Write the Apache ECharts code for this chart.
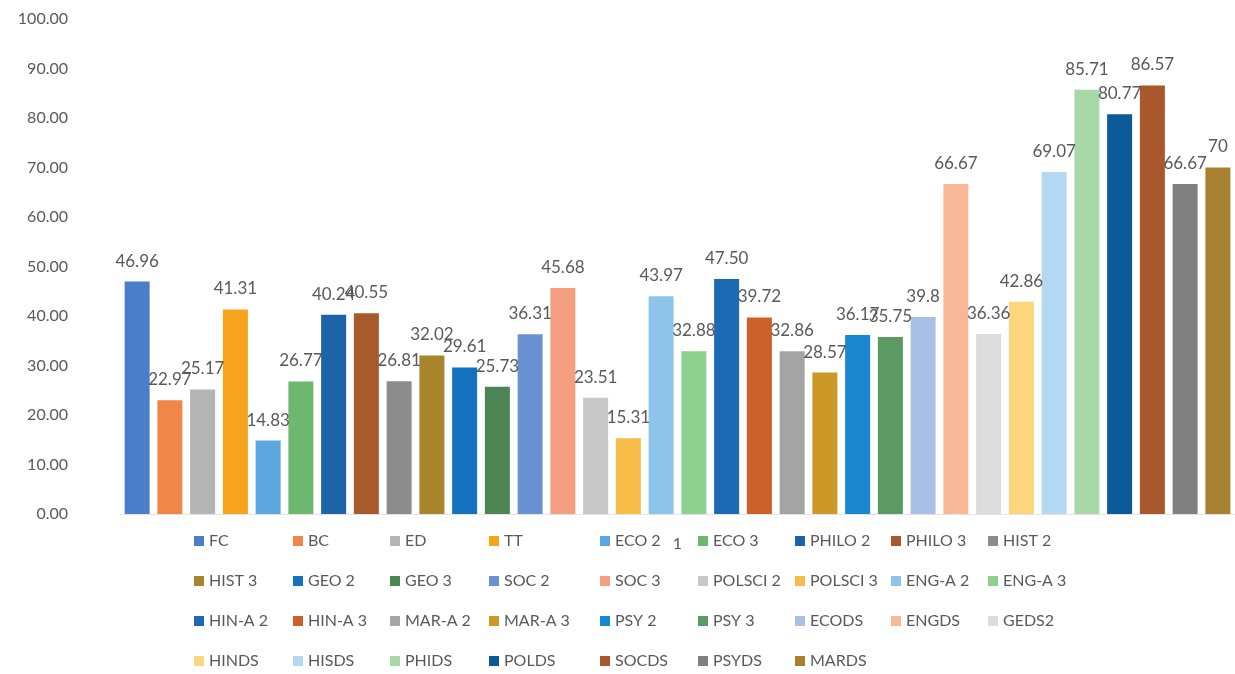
<!DOCTYPE html>
<html>
<head>
<meta charset="utf-8">
<script src="https://cdn.jsdelivr.net/npm/echarts@6/dist/echarts.min.js"></script>
<style>
  html, body { margin: 0; padding: 0; background: #fff; }
  #chart { width: 1235px; height: 674px; }
</style>
</head>
<body>
<div id="chart"></div>
<script>
// one category, one bar per class
var category = ['1'];
var classes = ['FC', 'BC', 'ED', 'TT', 'ECO 2', 'ECO 3', 'PHILO 2', 'PHILO 3', 'HIST 2',
    'HIST 3', 'GEO 2', 'GEO 3', 'SOC 2', 'SOC 3', 'POLSCI 2', 'POLSCI 3', 'ENG-A 2', 'ENG-A 3',
    'HIN-A 2', 'HIN-A 3', 'MAR-A 2', 'MAR-A 3', 'PSY 2', 'PSY 3', 'ECODS', 'ENGDS', 'GEDS2',
    'HINDS', 'HISDS', 'PHIDS', 'POLDS', 'SOCDS', 'PSYDS', 'MARDS'];
var values = [46.96, 22.97, 25.17, 41.31, 14.83, 26.77, 40.24, 40.55, 26.81,
    32.02, 29.61, 25.73, 36.31, 45.68, 23.51, 15.31, 43.97, 32.88,
    47.50, 39.72, 32.86, 28.57, 36.17, 35.75, 39.8, 66.67, 36.36,
    42.86, 69.07, 85.71, 80.77, 86.57, 66.67, 70];
// label text as printed on the chart
var labelText = ['46.96', '22.97', '25.17', '41.31', '14.83', '26.77', '40.24', '40.55', '26.81',
    '32.02', '29.61', '25.73', '36.31', '45.68', '23.51', '15.31', '43.97', '32.88',
    '47.50', '39.72', '32.86', '28.57', '36.17', '35.75', '39.8', '66.67', '36.36',
    '42.86', '69.07', '85.71', '80.77', '86.57', '66.67', '70'];
var yTicks = [0, 10, 20, 30, 40, 50, 60, 70, 80, 90, 100];

var colors = ['#4A7EC8', '#F0864A', '#B4B4B4', '#F5A41C', '#5BA5E0', '#6CB86E', '#1C63A8', '#A85A2C', '#8C8C8C',
    '#A8842A', '#1473C0', '#4C8454', '#6A92D2', '#F4A080', '#C8C8C8', '#F8BC48', '#8EC4EA', '#8ED08E',
    '#1C6AB4', '#CC6028', '#A4A4A4', '#CC9828', '#1A86D0', '#5C9A64', '#A8C0E4', '#F8B898', '#DCDCDC',
    '#FCD67C', '#B4D8F2', '#A8D8A8', '#0C5A98', '#A8582C', '#808080', '#A88032'];

var font = 'Lato, "Open Sans", sans-serif';
var txt = '#595959';

var series = classes.map(function (name, i) {
    return {
        name: name,
        type: 'bar',
        data: [values[i]],
        barWidth: 25,
        barGap: '31%',
        itemStyle: { color: colors[i] },
        label: {
            show: true,
            position: 'top',
            distance: 12,
            color: txt,
            fontFamily: font,
            fontSize: 17,
            formatter: function () { return labelText[i]; }
        }
    };
});

// legend: 9 columns, each a vertical legend (items fill row by row)
var colLeft = [194, 293, 390, 489, 600, 698, 795, 891, 988];
var legends = colLeft.map(function (x, c) {
    var col = [];
    for (var k = c; k < classes.length; k += 9) col.push(classes[k]);
    return {
        data: col,
        orient: 'vertical',
        left: x,
        top: 531,
        padding: 0,
        itemWidth: 10,
        itemHeight: 10,
        itemGap: 20,
        icon: 'rect',
        selectedMode: false,
        textStyle: { color: txt, fontFamily: font, fontSize: 16, lineHeight: 20 }
    };
});

var chart = echarts.init(document.getElementById('chart'));
chart.setOption({
    animation: false,
    color: colors,
    legend: legends,
    grid: { left: 120, right: 0, top: 19, bottom: 160, containLabel: false },
    xAxis: {
        type: 'category',
        data: category,
        axisTick: { show: false },
        axisLine: { show: true, lineStyle: { color: '#E4E4E4' } },
        axisLabel: { color: txt, fontFamily: font, fontSize: 16, margin: 22 }
    },
    yAxis: {
        type: 'value',
        min: yTicks[0],
        max: yTicks[yTicks.length - 1],
        interval: 10,
        splitLine: { show: false },
        axisLine: { show: false },
        axisTick: { show: false },
        axisLabel: {
            color: txt,
            fontFamily: font,
            fontSize: 16,
            margin: 52,
            formatter: function (v) { return v.toFixed(2); }
        }
    },
    series: series
});
</script>
</body>
</html>
